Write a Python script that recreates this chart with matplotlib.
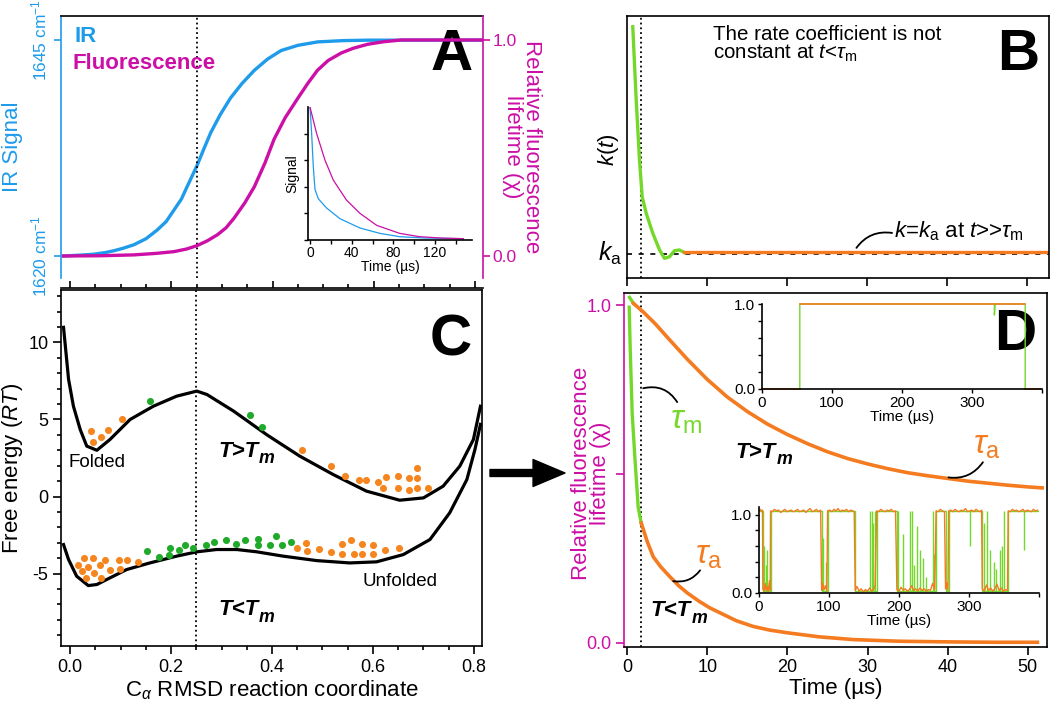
import matplotlib

matplotlib.use("Agg")
import matplotlib.pyplot as plt
from matplotlib.patches import FancyArrowPatch
from matplotlib.ticker import MultipleLocator

plt.rcParams["font.family"] = ["Liberation Sans", "DejaVu Sans"]
plt.rcParams["mathtext.fontset"] = "custom"
plt.rcParams["mathtext.rm"] = "Liberation Sans"
plt.rcParams["mathtext.it"] = "Liberation Sans:italic"
plt.rcParams["mathtext.bf"] = "Liberation Sans:bold"
plt.rcParams["axes.unicode_minus"] = False
plt.rcParams["axes.linewidth"] = 1.2

BLUE = "#1E9BEB"
MAGENTA = "#CC0FA6"
ORANGE = "#F47B20"
LIME = "#74D82B"
DOT_GREEN = "#1FAA2A"
DOT_ORANGE = "#F5861F"

W, H = 1050, 703

# ── data ──────────────────────────────────────────────────────────────────────

# panel A: IR (cm-1) and fluorescence lifetime along the RMSD coordinate
a_ir_x = [-0.013, 0.02, 0.046, 0.07, 0.086, 0.105, 0.126, 0.15, 0.172, 0.19, 0.205,
          0.22, 0.231, 0.251, 0.265, 0.278, 0.297, 0.317, 0.34, 0.364, 0.39, 0.417,
          0.45, 0.489, 0.54, 0.588, 0.816]
a_ir_cm = [1620.0, 1620.1, 1620.2, 1620.4, 1620.6, 1620.9, 1621.3, 1622.0, 1623.0,
           1624.0, 1625.3, 1626.6, 1628.0, 1630.5, 1632.5, 1634.3, 1636.4, 1638.3,
           1640.0, 1641.5, 1642.8, 1643.8, 1644.4, 1644.8, 1644.95, 1645.0, 1645.0]
a_fl_x = [-0.013, 0.06, 0.126, 0.17, 0.205, 0.23, 0.251, 0.271, 0.291, 0.308, 0.324,
          0.345, 0.364, 0.385, 0.403, 0.425, 0.45, 0.47, 0.489, 0.51, 0.536, 0.56,
          0.588, 0.62, 0.655, 0.816]
a_fl_chi = [0.0, 0.001, 0.005, 0.012, 0.02, 0.032, 0.048, 0.07, 0.098, 0.13, 0.175,
            0.245, 0.32, 0.43, 0.54, 0.64, 0.73, 0.8, 0.86, 0.905, 0.94, 0.962, 0.98,
            0.992, 1.0, 1.0]

# panel A inset: signal decays (time in us)
a_ins_ir_t = [0, 1.6, 3.2, 4.8, 8, 16, 28.8, 48, 67, 86, 110, 147]
a_ins_ir_s = [1.0, 0.8, 0.55, 0.38, 0.31, 0.24, 0.16, 0.09, 0.05, 0.025, 0.015, 0.01]
a_ins_fl_t = [0, 6.4, 14.4, 22.4, 35, 48, 64, 86, 105, 125, 147]
a_ins_fl_s = [1.0, 0.8, 0.6, 0.45, 0.3, 0.2, 0.11, 0.05, 0.025, 0.015, 0.01]

# panel B: time-dependent rate coefficient
b_fast_t = [0.72, 1.15, 1.56, 1.9, 2.4, 3.22, 4.06, 4.68, 5.3, 5.93, 6.55, 7.18]
b_fast_k = [9.59, 6.79, 4.5, 3.1, 2.47, 1.71, 1.07, 0.75, 0.81, 1.04, 1.07, 0.97]
b_slow_t = [7.18, 52.7]
b_slow_k = [0.98, 0.98]
b_ka = 0.92
b_tau_m = 1.7

# panel C: free energy profiles (RT) and sampled points
c_hot_x = [-0.013, -0.003, 0.0066, 0.02, 0.033, 0.053, 0.079, 0.119, 0.165, 0.211,
           0.251, 0.271, 0.324, 0.39, 0.455, 0.521, 0.587, 0.653, 0.7, 0.739,
           0.772, 0.799, 0.813]
c_hot_g = [10.98, 7.6, 5.86, 4.35, 3.27, 3.0, 3.7, 5.0, 5.86, 6.51, 6.84, 6.62,
           5.54, 4.0, 2.62, 1.43, 0.35, -0.24, -0.09, 0.67, 1.97, 3.7, 5.86]
c_cold_x = [-0.013, -0.003, 0.013, 0.036, 0.053, 0.079, 0.112, 0.158, 0.211, 0.251,
            0.29, 0.33, 0.37, 0.422, 0.489, 0.554, 0.607, 0.66, 0.713, 0.752,
            0.786, 0.802, 0.813]
c_cold_g = [-3.12, -4.09, -5.17, -5.78, -5.71, -5.28, -4.74, -4.31, -3.87, -3.59,
            -3.44, -3.44, -3.59, -3.87, -4.16, -4.31, -4.24, -3.77, -2.79, -1.06,
            1.1, 3.05, 4.68]
c_hot_orange_x = [0.041, 0.045, 0.062, 0.075, 0.102, 0.459, 0.517, 0.545, 0.573, 0.587,
                  0.609, 0.62, 0.626, 0.649, 0.649, 0.672, 0.672, 0.687, 0.687, 0.687,
                  0.71]
c_hot_orange_g = [4.24, 3.53, 3.88, 4.31, 5.0, 3.01, 2.01, 1.36, 1.04, 1.06, 0.95, 0.54,
                  1.25, 1.36, 0.54, 1.17, 0.43, 1.82, 1.17, 0.54, 0.54]
c_hot_green_x = [0.158, 0.356, 0.381]
c_hot_green_g = [6.19, 5.26, 4.52]
c_cold_orange_x = [0.016, 0.023, 0.028, 0.032, 0.036, 0.046, 0.048, 0.059, 0.061, 0.07,
                   0.079, 0.096, 0.098, 0.112, 0.135, 0.449, 0.467, 0.47, 0.493, 0.516,
                   0.539, 0.539, 0.556, 0.562, 0.578, 0.578, 0.6, 0.6, 0.624, 0.651]
c_cold_orange_g = [-4.46, -4.85, -3.98, -5.28, -4.59, -3.98, -4.96, -4.46, -5.28, -4.09,
                   -4.78, -4.09, -4.68, -4.09, -4.26, -3.33, -3.01, -3.55, -3.4, -3.59,
                   -3.07, -3.72, -2.81, -3.72, -3.07, -3.72, -3.14, -3.72, -3.46, -3.33]
c_cold_green_x = [0.152, 0.176, 0.195, 0.198, 0.216, 0.228, 0.243, 0.269, 0.285, 0.308,
                  0.329, 0.346, 0.372, 0.372, 0.396, 0.407, 0.419, 0.438]
c_cold_green_g = [-3.55, -3.92, -3.77, -3.33, -3.49, -3.16, -3.33, -3.16, -2.97, -2.79,
                  -3.1, -2.79, -2.75, -3.16, -3.16, -2.58, -3.16, -2.92]
c_transition = 0.25

# panel D: relaxation of the relative fluorescence lifetime (time in us)
d_hot_fast_t = [0.29, 0.79]
d_hot_fast_chi = [1.023, 1.005]
d_hot_slow_t = [0.79, 2.0, 3.5, 5.0, 7.5, 10.0, 12.5, 15.0, 17.5, 20.0, 22.5, 25.0,
                27.5, 30.0, 32.5, 35.0, 37.5, 40.0, 42.5, 45.0, 47.5, 50.0, 51.8]
d_hot_slow_chi = [1.005, 0.98, 0.945, 0.905, 0.84, 0.78, 0.728, 0.685, 0.648, 0.617,
                  0.59, 0.566, 0.546, 0.53, 0.516, 0.504, 0.495, 0.487, 0.479, 0.473,
                  0.467, 0.462, 0.459]
d_cold_fast_t = [0.25, 0.37, 0.62, 1.0, 1.37, 1.75]
d_cold_fast_chi = [0.994, 0.876, 0.68, 0.533, 0.402, 0.355]
d_cold_slow_t = [1.75, 2.5, 3.25, 4.2, 5.37, 6.4, 7.5, 9.0, 10.3, 11.6, 13.6, 15.7,
                 17.8, 20.0, 24.0, 28.2, 34.0, 40.7, 46.0, 51.2]
d_cold_slow_chi = [0.355, 0.3, 0.255, 0.225, 0.195, 0.17, 0.148, 0.123, 0.104, 0.089,
                   0.066, 0.049, 0.038, 0.03, 0.018, 0.01, 0.005, 0.003, 0.002, 0.002]

# panel D, upper inset: single trajectory above Tm
d1_orange_t = [0, 54, None, 54, 376, None, 376, 398]
d1_orange_y = [0, 0, None, 1, 1, None, 0, 0]
d1_green_t = [54, 54, 332, 332, 333, 376, 376]
d1_green_y = [0, 1, 1, 0.87, 1, 1, 0]

# panel D, lower inset: single trajectory below Tm
d2_orange_t = [0, 2, 4, 5, 5.5, 7, 9, 10, 12, 13, 15, 16, 16.5, 19, 22, 25, 28, 31, 34,
               37, 40, 43, 46, 49, 52, 55, 58, 61, 64, 67, 70, 73, 76, 79, 82, 85, 88,
               89.5, 91, 93, 95, 97, 98, 101, 104, 107, 110, 113, 116, 119, 122, 125,
               128, 131, 134, 136, 137.5, 140, 143, 146, 149, 152, 155, 158, 161, 164,
               166, 168, 171, 174, 177, 180, 183, 186, 189, 192, 195, 197, 200, 203,
               206, 209, 212, 215, 218, 221, 224, 227, 230, 233, 236, 239, 242, 245,
               248, 251, 253, 256, 259, 262, 265, 266.5, 268, 270, 271, 274, 277, 280,
               283, 286, 289, 292, 295, 298, 301, 304, 307, 310, 313, 316, 318, 319,
               322, 325, 328, 331, 334, 337, 340, 343, 346, 349, 352, 355, 356, 359,
               362, 365, 368, 371, 374, 377, 380, 383, 386, 389, 392, 395, 398]
d2_orange_y = [1.05, 1.07, 1.04, 1.06, 0.05, 0.02, 0.12, 0.03, 0.08, 0.02, 0.15, 0.03,
               1.05, 1.04, 1.07, 1.05, 1.06, 1.03, 1.05, 1.07, 1.04, 1.05, 1.06, 1.04,
               1.05, 1.07, 1.04, 1.05, 1.06, 1.03, 1.06, 1.08, 1.04, 1.05, 1.07, 1.04,
               1.06, 0.03, 0.12, 0.04, 0.09, 0.02, 1.05, 1.06, 1.04, 1.07, 1.05, 1.08,
               1.04, 1.06, 1.05, 1.07, 1.04, 1.06, 1.05, 1.04, 0.03, 0.08, 0.02, 0.05,
               0.01, 0.04, 0.02, 0.06, 0.02, 0.04, 0.1, 1.05, 1.04, 1.07, 1.05, 1.04,
               1.06, 1.05, 1.07, 1.04, 1.05, 0.04, 0.02, 0.07, 0.03, 0.05, 0.02, 0.04,
               0.09, 0.03, 0.05, 0.02, 0.06, 0.03, 0.05, 0.02, 0.04, 0.03, 0.12, 0.04,
               1.05, 1.04, 1.07, 1.05, 1.04, 0.05, 0.13, 0.03, 1.05, 1.06, 1.04, 1.07,
               1.05, 1.04, 1.06, 1.05, 1.08, 1.04, 1.05, 1.06, 1.04, 1.07, 1.05, 1.04,
               1.06, 0.05, 0.02, 0.1, 0.03, 0.06, 0.02, 0.05, 0.11, 0.03, 0.06, 0.02,
               0.04, 0.03, 1.05, 1.04, 1.07, 1.05, 1.06, 1.04, 1.05, 1.07, 1.04, 1.06,
               1.05, 1.04, 1.07, 1.05, 1.06]
d2_green_t = [0, 5, 5, 16.5, 16.5, 89.5, 89.5, 98, 98, 137.5, 137.5, 168, 168, 197,
              197, 253, 253, 266.5, 266.5, 271, 271, 318.5, 318.5, 355.5, 355.5, 400]
d2_green_y = [1.05, 1.05, 0.02, 0.02, 1.05, 1.05, 0.02, 0.02, 1.05, 1.05, 0.02, 0.02,
              1.05, 1.05, 0.02, 0.02, 1.05, 1.05, 0.02, 0.02, 1.05, 1.05, 0.02, 0.02,
              1.05, 1.05]
d2_spike_t = [7, 10, 12, 91, 95, 158, 161, 163, 165, 198, 205, 216, 219, 222, 226, 230,
              234, 239, 248, 250, 321, 325, 330, 335, 339, 344, 347, 350]
d2_spike_top = [0.6, 0.35, 0.55, 0.7, 0.4, 1.05, 1.05, 0.9, 1.05, 1.05, 0.75, 1.05,
                1.05, 0.35, 0.85, 0.55, 0.45, 0.2, 1.05, 0.5, 0.9, 1.05, 0.55, 0.4, 0.3,
                0.55, 0.6, 1.05]
d2_dip_t = [301, 379]
d2_dip_bottom = [0.6, 0.55]


# ── helpers ───────────────────────────────────────────────────────────────────


def px_axes(fig, x0, y0, x1, y1):
  """Add axes from a pixel box (top-left origin)."""
  return fig.add_axes([x0 / W, 1 - y1 / H, (x1 - x0) / W, (y1 - y0) / H])


def panel_letter(ax, x, y, letter):
  ax.text(x, y, letter, transform=ax.transAxes, fontsize=42, fontweight="bold",
          ha="right", va="top")


def t_vs_tm(ax, x, y, rel, size=16):
  """Bold italic 'T>T_m' style label."""
  t = ax.text(x, y, f"T{rel}T", fontsize=size, fontweight="bold", fontstyle="italic",
              va="center")
  ax.annotate("m", xy=(1, 0), xycoords=t, xytext=(0.5, -1), textcoords="offset points",
              fontsize=size * 0.8, fontweight="bold", fontstyle="italic", va="baseline")


def leader(ax, p0, p1, rad):
  ax.annotate("", xy=p1, xytext=p0, arrowprops=dict(
    arrowstyle="-", color="k", lw=1.3, shrinkA=0, shrinkB=0,
    connectionstyle=f"arc3,rad={rad}"))


# ── panels ────────────────────────────────────────────────────────────────────


def panel_a(fig):
  ax = px_axes(fig, 61, 16, 483, 278)
  ax.plot(a_ir_x, a_ir_cm, color=BLUE, lw=2.4)
  ax.set_xlim(-0.018, 0.816)
  ax.set_ylim(1617.45, 1647.8)
  ax.axvline(c_transition, color="k", ls=":", lw=1.3)
  ax.set_yticks([1620, 1645], ["1620 cm$^{-1}$", "1645 cm$^{-1}$"], rotation=90,
                va="center")
  ax.tick_params(axis="y", colors=BLUE, labelsize=12.5, length=5, width=1.2, pad=3)
  ax.spines["left"].set_color(BLUE)
  ax.spines["right"].set_visible(False)
  ax.spines["bottom"].set_position(("outward", 7))
  ax.xaxis.set_major_locator(MultipleLocator(0.2))
  ax.xaxis.set_minor_locator(MultipleLocator(0.05))
  ax.tick_params(axis="x", which="both", direction="in", labelbottom=False, width=1.2)
  ax.tick_params(axis="x", which="major", length=5)
  ax.tick_params(axis="x", which="minor", length=3)
  ax.set_ylabel("IR Signal", color=BLUE, fontsize=16, va="center")
  ax.yaxis.set_label_coords(-0.116, 0.5)
  ax.text(0.033, 0.92, "IR", transform=ax.transAxes, color=BLUE, fontsize=16,
          fontweight="bold", va="center")
  ax.text(0.028, 0.82, "Fluorescence", transform=ax.transAxes, color=MAGENTA,
          fontsize=16, fontweight="bold", va="center")
  panel_letter(ax, 0.976, 0.955, "A")

  axr = ax.twinx()
  axr.plot(a_fl_x, a_fl_chi, color=MAGENTA, lw=2.4)
  axr.set_ylim(-0.102, 1.111)
  axr.set_yticks([0, 1], ["0.0", "1.0"])
  axr.tick_params(axis="y", colors=MAGENTA, labelsize=12.5, length=5, width=1.2, pad=2)
  for side in ("left", "top", "bottom"):
    axr.spines[side].set_visible(False)
  axr.spines["right"].set_color(MAGENTA)
  # two-line right axis title, one text per line
  axr.text(1.116, 0.5, "Relative fluorescence", transform=axr.transAxes, color=MAGENTA,
           fontsize=16, rotation=270, ha="center", va="center")
  axr.text(1.07, 0.5, "lifetime (χ)", transform=axr.transAxes, color=MAGENTA,
           fontsize=16, rotation=270, ha="center", va="center")

  ins = px_axes(fig, 308, 107, 472, 240)
  ins.patch.set_alpha(0)
  ins.plot(a_ins_ir_t, a_ins_ir_s, color=BLUE, lw=0.9)
  ins.plot(a_ins_fl_t, a_ins_fl_s, color=MAGENTA, lw=0.9)
  ins.set_xlim(-1.9, 155.4)
  ins.set_ylim(0, 1.0)
  ins.spines[["top", "right"]].set_visible(False)
  ins.xaxis.set_major_locator(MultipleLocator(40))
  ins.xaxis.set_minor_locator(MultipleLocator(20))
  ins.set_yticks([0, 0.2, 0.4, 0.6, 0.8], [])
  ins.tick_params(which="both", length=3, width=1, labelsize=10, pad=1)
  ins.set_xlabel("Time (µs)", fontsize=10, labelpad=0)
  ins.set_ylabel("Signal", fontsize=10, labelpad=2)


def panel_b(fig):
  ax = px_axes(fig, 627, 16, 1049, 278)
  ax.set_xlim(0, 52.7)
  ax.set_ylim(0, 10)
  ax.axhline(b_ka, color="k", ls=(0, (3, 4)), lw=1.2)
  ax.axvline(b_tau_m, color="k", ls=":", lw=1.3)
  ax.plot(b_fast_t, b_fast_k, color=LIME, lw=2.4)
  ax.plot(b_slow_t, b_slow_k, color=ORANGE, lw=2.4)
  ax.set_yticks([])
  ax.set_xticks(range(0, 51, 10))
  ax.tick_params(axis="x", direction="out", length=6, width=1.2, labelbottom=False)
  ax.text(-0.045, 0.49, "$k(t)$", transform=ax.transAxes, fontsize=16, rotation=90,
          ha="center", va="center")
  ax.text(-0.012, b_ka, "$k_\\mathrm{a}$", transform=ax.get_yaxis_transform(),
          fontsize=18, ha="right", va="center")
  ax.text(10.8, 9.66, "The rate coefficient is not\nconstant at $t$<$\\tau_\\mathrm{m}$",
          fontsize=14.8, va="top", linespacing=0.95)
  ax.text(33.4, 1.56, "$k$=$k_\\mathrm{a}$ at $t$>>$\\tau_\\mathrm{m}$", fontsize=16,
          va="baseline")
  leader(ax, (28.65, 1.15), (33.1, 1.72), -0.3)
  panel_letter(ax, 0.976, 0.955, "B")


def panel_c(fig):
  ax = px_axes(fig, 61, 290, 482, 646)
  ax.plot(c_hot_x, c_hot_g, color="k", lw=2.3)
  ax.plot(c_cold_x, c_cold_g, color="k", lw=2.3)
  ax.scatter(c_hot_orange_x, c_hot_orange_g, s=26, color=DOT_ORANGE, lw=0, zorder=3)
  ax.scatter(c_cold_orange_x, c_cold_orange_g, s=26, color=DOT_ORANGE, lw=0, zorder=3)
  ax.scatter(c_hot_green_x, c_hot_green_g, s=26, color=DOT_GREEN, lw=0, zorder=3)
  ax.scatter(c_cold_green_x, c_cold_green_g, s=26, color=DOT_GREEN, lw=0, zorder=3)
  ax.axvline(c_transition, color="k", ls=":", lw=1.3)
  ax.set_xlim(-0.018, 0.816)
  ax.set_ylim(-9.7, 13.4)
  ax.xaxis.set_major_locator(MultipleLocator(0.2))
  ax.xaxis.set_minor_locator(MultipleLocator(0.05))
  ax.xaxis.set_major_formatter("{x:.1f}")
  ax.set_yticks([-5, 0, 5, 10])
  ax.yaxis.set_minor_locator(MultipleLocator(1))
  ax.tick_params(which="both", width=1.2, labelsize=13, pad=3)
  ax.tick_params(which="major", length=6)
  ax.tick_params(which="minor", length=3)
  ax.set_ylabel("Free energy ($RT$)", fontsize=16, va="center")
  ax.yaxis.set_label_coords(-0.116, 0.5)
  ax.set_xlabel("C$_\\alpha$ RMSD reaction coordinate", fontsize=16, va="center")
  ax.xaxis.set_label_coords(0.5, -0.124)
  ax.text(-0.004, 2.2, "Folded", fontsize=13.5, va="center")
  ax.text(0.58, -5.52, "Unfolded", fontsize=13.5, va="center")
  t_vs_tm(ax, 0.293, 2.92, ">")
  t_vs_tm(ax, 0.293, -7.34, "<")
  panel_letter(ax, 0.976, 0.935, "C")


def panel_d(fig):
  ax = px_axes(fig, 624, 293, 1047, 647)
  ax.axvline(b_tau_m, color="k", ls=":", lw=1.3)
  ax.plot(d_hot_fast_t, d_hot_fast_chi, color=LIME, lw=2.4)
  ax.plot(d_hot_slow_t, d_hot_slow_chi, color=ORANGE, lw=2.6)
  ax.plot(d_cold_fast_t, d_cold_fast_chi, color=LIME, lw=2.4)
  ax.plot(d_cold_slow_t, d_cold_slow_chi, color=ORANGE, lw=2.6)
  ax.set_xlim(-0.4, 52.4)
  ax.set_ylim(-0.012, 1.036)
  ax.set_xticks(range(0, 51, 10))
  ax.set_yticks([0, 0.5, 1.0], ["0.0", "", "1.0"])
  ax.tick_params(width=1.2, length=6, labelsize=13, pad=3)
  ax.tick_params(axis="y", colors=MAGENTA)
  ax.spines["left"].set_color(MAGENTA)
  ax.set_xlabel("Time (µs)", fontsize=16, va="center")
  ax.xaxis.set_label_coords(0.5, -0.116)
  ax.set_ylabel("Relative fluorescence\nlifetime (χ)", color=MAGENTA, fontsize=16,
                va="center", ha="center", multialignment="center", linespacing=0.85)
  ax.yaxis.set_label_coords(-0.078, 0.49)

  ax.text(5.4, 0.66, "$\\tau_\\mathrm{m}$", color=LIME, fontsize=24, va="center")
  leader(ax, (2.0, 0.754), (6.24, 0.713), -0.35)
  ax.text(43.2, 0.586, "$\\tau_\\mathrm{a}$", color=ORANGE, fontsize=24, va="center")
  leader(ax, (40.1, 0.49), (44.4, 0.535), 0.3)
  ax.text(8.5, 0.26, "$\\tau_\\mathrm{a}$", color=ORANGE, fontsize=24, va="center")
  leader(ax, (5.74, 0.183), (9.1, 0.215), 0.3)
  t_vs_tm(ax, 13.5, 0.565, ">")
  t_vs_tm(ax, 2.9, 0.095, "<")
  panel_letter(ax, 0.976, 0.958, "D")

  # upper inset: T > Tm trajectory
  ins1 = px_axes(fig, 762, 304, 1042, 389)
  ins1.patch.set_alpha(0)
  ins1.plot(d1_green_t, d1_green_y, color=LIME, lw=1.0, clip_on=False)
  ins1.plot(d1_orange_t, d1_orange_y, color=ORANGE, lw=1.2, clip_on=False)
  # lower inset: T < Tm trajectory
  ins2 = px_axes(fig, 759, 507, 1039, 592.7)
  ins2.patch.set_alpha(0)
  ins2.plot(d2_green_t, d2_green_y, color=LIME, lw=1.0)
  ins2.vlines(d2_spike_t, 0.02, d2_spike_top, color=LIME, lw=1.0)
  ins2.vlines(d2_dip_t, d2_dip_bottom, 1.05, color=LIME, lw=1.0)
  ins2.plot(d2_orange_t, d2_orange_y, color=ORANGE, lw=1.0)
  for ins, top in ((ins1, 1.0), (ins2, 1.1)):
    ins.set_xlim(0, 400)
    ins.set_ylim(0, top)
    ins.spines[["top", "right"]].set_visible(False)
    ins.set_xticks([0, 100, 200, 300, 400], ["0", "100", "200", "300", ""])
    ins.set_yticks([0, 0.2, 0.4, 0.6, 0.8, 1.0], ["0.0", "", "", "", "", "1.0"])
    ins.tick_params(length=3, width=1, labelsize=11, pad=2)
  ins1.set_xlabel("Time (µs)", fontsize=11, labelpad=0)
  ins2.set_xlabel("Time (µs)", fontsize=11, labelpad=0)


# ── main ──────────────────────────────────────────────────────────────────────


def main() -> None:
  fig = plt.figure(figsize=(W / 100, H / 100), dpi=100)
  panel_a(fig)
  panel_b(fig)
  panel_c(fig)
  panel_d(fig)
  fig.add_artist(FancyArrowPatch(
    (490 / W, 1 - 473 / H), (565 / W, 1 - 473 / H), transform=fig.transFigure,
    arrowstyle="simple,head_length=1.15,head_width=0.97,tail_width=0.25",
    mutation_scale=20, color="k", shrinkA=0, shrinkB=0))
  fig.savefig("out.png", dpi=100)
  plt.close(fig)


if __name__ == "__main__":
  main()
